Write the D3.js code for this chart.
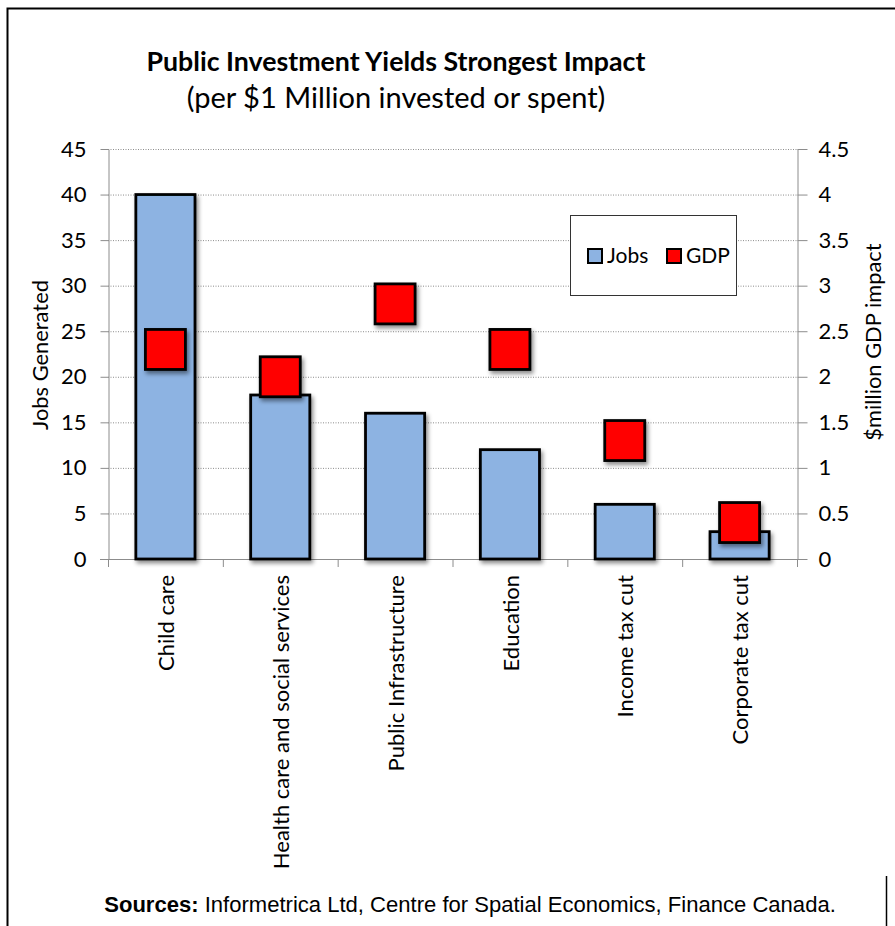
<!DOCTYPE html>
<html>
<head>
<meta charset="utf-8">
<script src="https://cdn.jsdelivr.net/npm/d3@7"></script>
<style>
  html, body { margin: 0; padding: 0; background: #fff; }
  svg { display: block; }
  .tick text { font-family: Lato, "Open Sans", sans-serif; font-size: 22px; fill: #000; }
</style>
</head>
<body>
<svg id="chart" width="895" height="926"></svg>
<script>
// ---- data ----
const categories = ["Child care", "Health care and social services", "Public Infrastructure",
                    "Education", "Income tax cut", "Corporate tax cut"];
const jobs = [40, 18, 16, 12, 6, 3];          // left axis, jobs generated
const gdp = [2.3, 2.0, 2.8, 2.3, 1.3, 0.4];   // right axis, $million GDP impact
const jobsTicks = [0, 5, 10, 15, 20, 25, 30, 35, 40, 45];
const gdpTicks = [0, 0.5, 1, 1.5, 2, 2.5, 3, 3.5, 4, 4.5];

const FONT = 'Lato, "Open Sans", sans-serif';
const plot = { left: 108, right: 797, top: 149, bottom: 559 };

const svg = d3.select('#chart');
svg.append('rect').attr('width', 895).attr('height', 926).attr('fill', '#fff');

// frame lines
svg.append('path')
  .attr('d', 'M 7.5 926 L 7.5 8.5 L 895 8.5')
  .attr('fill', 'none').attr('stroke', '#000').attr('stroke-width', 2);
svg.append('line')
  .attr('x1', 886.5).attr('x2', 886.5).attr('y1', 876).attr('y2', 926)
  .attr('stroke', '#000').attr('stroke-width', 1.5);

// drop shadow for marks
const defs = svg.append('defs');
defs.append('filter').attr('id', 'shadow')
  .attr('x', '-20%').attr('y', '-20%').attr('width', '150%').attr('height', '150%')
  .append('feDropShadow')
  .attr('dx', 2).attr('dy', 3).attr('stdDeviation', 2)
  .attr('flood-color', '#000').attr('flood-opacity', 0.45);

// fit a text element to a width measured on the reference
function fitWidth(sel, width) {
  const w = sel.node().getComputedTextLength();
  const fs = parseFloat(sel.attr('font-size'));
  sel.attr('font-size', (fs * width / w).toFixed(2));
}

// scales
const x = d3.scaleBand()
  .domain(categories)
  .range([plot.left, plot.right])
  .paddingInner(0.485)
  .paddingOuter(0.2425);
const yJobs = d3.scaleLinear().domain([0, 45]).range([plot.bottom, plot.top]);
const yGdp = d3.scaleLinear().domain([0, 4.5]).range([plot.bottom, plot.top]);

// gridlines
svg.append('g').selectAll('line')
  .data(jobsTicks.filter(d => d > 0))
  .join('line')
  .attr('x1', plot.left).attr('x2', plot.right)
  .attr('y1', d => yJobs(d) + 0.5).attr('y2', d => yJobs(d) + 0.5)
  .attr('stroke', '#8c8c8c').attr('stroke-width', 1)
  .attr('stroke-dasharray', '1,1.5');

// axes
const leftAxis = svg.append('g')
  .attr('transform', `translate(${plot.left + 0.5},0)`)
  .call(d3.axisLeft(yJobs).tickValues(jobsTicks).tickSize(8).tickPadding(14).tickSizeOuter(0));
const rightAxis = svg.append('g')
  .attr('transform', `translate(${plot.right + 0.5},0)`)
  .call(d3.axisRight(yGdp).tickValues(gdpTicks).tickSize(10).tickPadding(11).tickSizeOuter(0)
    .tickFormat(d => String(d)));
[leftAxis, rightAxis].forEach(a => {
  a.select('.domain').attr('stroke', '#8c8c8c');
  a.selectAll('.tick line').attr('stroke', '#8c8c8c');
  a.selectAll('.tick text').attr('font-family', FONT);
});

// category axis: boundary ticks, rotated labels
const step = x.step();
const base = svg.append('g');
base.append('line')
  .attr('x1', plot.left - 8).attr('x2', plot.right + 10)
  .attr('y1', plot.bottom + 0.5).attr('y2', plot.bottom + 0.5)
  .attr('stroke', '#8c8c8c');
base.selectAll('line.cat-tick')
  .data(d3.range(categories.length + 1))
  .join('line')
  .attr('class', 'cat-tick')
  .attr('x1', i => plot.left + i * step + 0.5).attr('x2', i => plot.left + i * step + 0.5)
  .attr('y1', plot.bottom).attr('y2', plot.bottom + 8)
  .attr('stroke', '#8c8c8c');
base.selectAll('text')
  .data(categories)
  .join('text')
  .attr('transform', d => `translate(${x(d) + x.bandwidth() / 2 + 1},575) rotate(-90)`)
  .attr('text-anchor', 'end')
  .attr('dy', '0.35em')
  .attr('font-family', FONT).attr('font-size', 22)
  .text(d => d);

// bars (jobs)
svg.append('g').selectAll('rect')
  .data(categories)
  .join('rect')
  .attr('x', d => x(d))
  .attr('y', (d, i) => yJobs(jobs[i]))
  .attr('width', x.bandwidth())
  .attr('height', (d, i) => yJobs(0) - yJobs(jobs[i]))
  .attr('fill', '#8db3e2')
  .attr('stroke', '#000').attr('stroke-width', 2.8)
  .attr('filter', 'url(#shadow)');

// square markers (gdp)
const sq = 40;
svg.append('g').selectAll('rect')
  .data(categories)
  .join('rect')
  .attr('x', d => x(d) + x.bandwidth() / 2 - sq / 2)
  .attr('y', (d, i) => yGdp(gdp[i]) - sq / 2)
  .attr('width', sq).attr('height', sq)
  .attr('fill', '#ff0000')
  .attr('stroke', '#000').attr('stroke-width', 2.8)
  .attr('filter', 'url(#shadow)');

// axis titles (same size on both sides)
const leftTitle = svg.append('text')
  .attr('transform', 'translate(40,355) rotate(-90)')
  .attr('text-anchor', 'middle').attr('dy', '0.35em')
  .attr('font-family', FONT).attr('font-size', 20)
  .text('Jobs Generated');
fitWidth(leftTitle, 150);
svg.append('text')
  .attr('transform', 'translate(873,342) rotate(-90)')
  .attr('text-anchor', 'middle').attr('dy', '0.35em')
  .attr('font-family', FONT).attr('font-size', leftTitle.attr('font-size'))
  .text('$million GDP impact');

// legend
const legend = svg.append('g');
legend.append('rect')
  .attr('x', 570.5).attr('y', 215.5).attr('width', 166).attr('height', 80)
  .attr('fill', '#fff').attr('stroke', '#333').attr('stroke-width', 1);
const legendItems = [
  { label: 'Jobs', fill: '#8db3e2', x: 588 },
  { label: 'GDP', fill: '#ff0000', x: 667 }
];
legendItems.forEach(it => {
  legend.append('rect')
    .attr('x', it.x).attr('y', 249).attr('width', 14).attr('height', 14)
    .attr('fill', it.fill).attr('stroke', '#000').attr('stroke-width', 2);
  legend.append('text')
    .attr('x', it.x + 19).attr('y', 263)
    .attr('font-family', FONT).attr('font-size', 21)
    .text(it.label);
});

// titles
const title = svg.append('text')
  .attr('x', 396).attr('y', 71)
  .attr('text-anchor', 'middle')
  .attr('font-family', FONT).attr('font-weight', 'bold').attr('font-size', 24)
  .text('Public Investment Yields Strongest Impact');
fitWidth(title, 499);
const subtitle = svg.append('text')
  .attr('x', 396).attr('y', 108)
  .attr('text-anchor', 'middle')
  .attr('font-family', FONT).attr('font-size', 24)
  .text('(per $1 Million invested or spent)');
fitWidth(subtitle, 419);

// source note
const note = svg.append('text')
  .attr('x', 470).attr('y', 912)
  .attr('text-anchor', 'middle')
  .attr('font-family', '"Liberation Sans", Arial, sans-serif').attr('font-size', 17);
note.append('tspan').attr('font-weight', 'bold').text('Sources:');
note.append('tspan').text(' Informetrica Ltd, Centre for Spatial Economics, Finance Canada.');
fitWidth(note, 732);
</script>
</body>
</html>
